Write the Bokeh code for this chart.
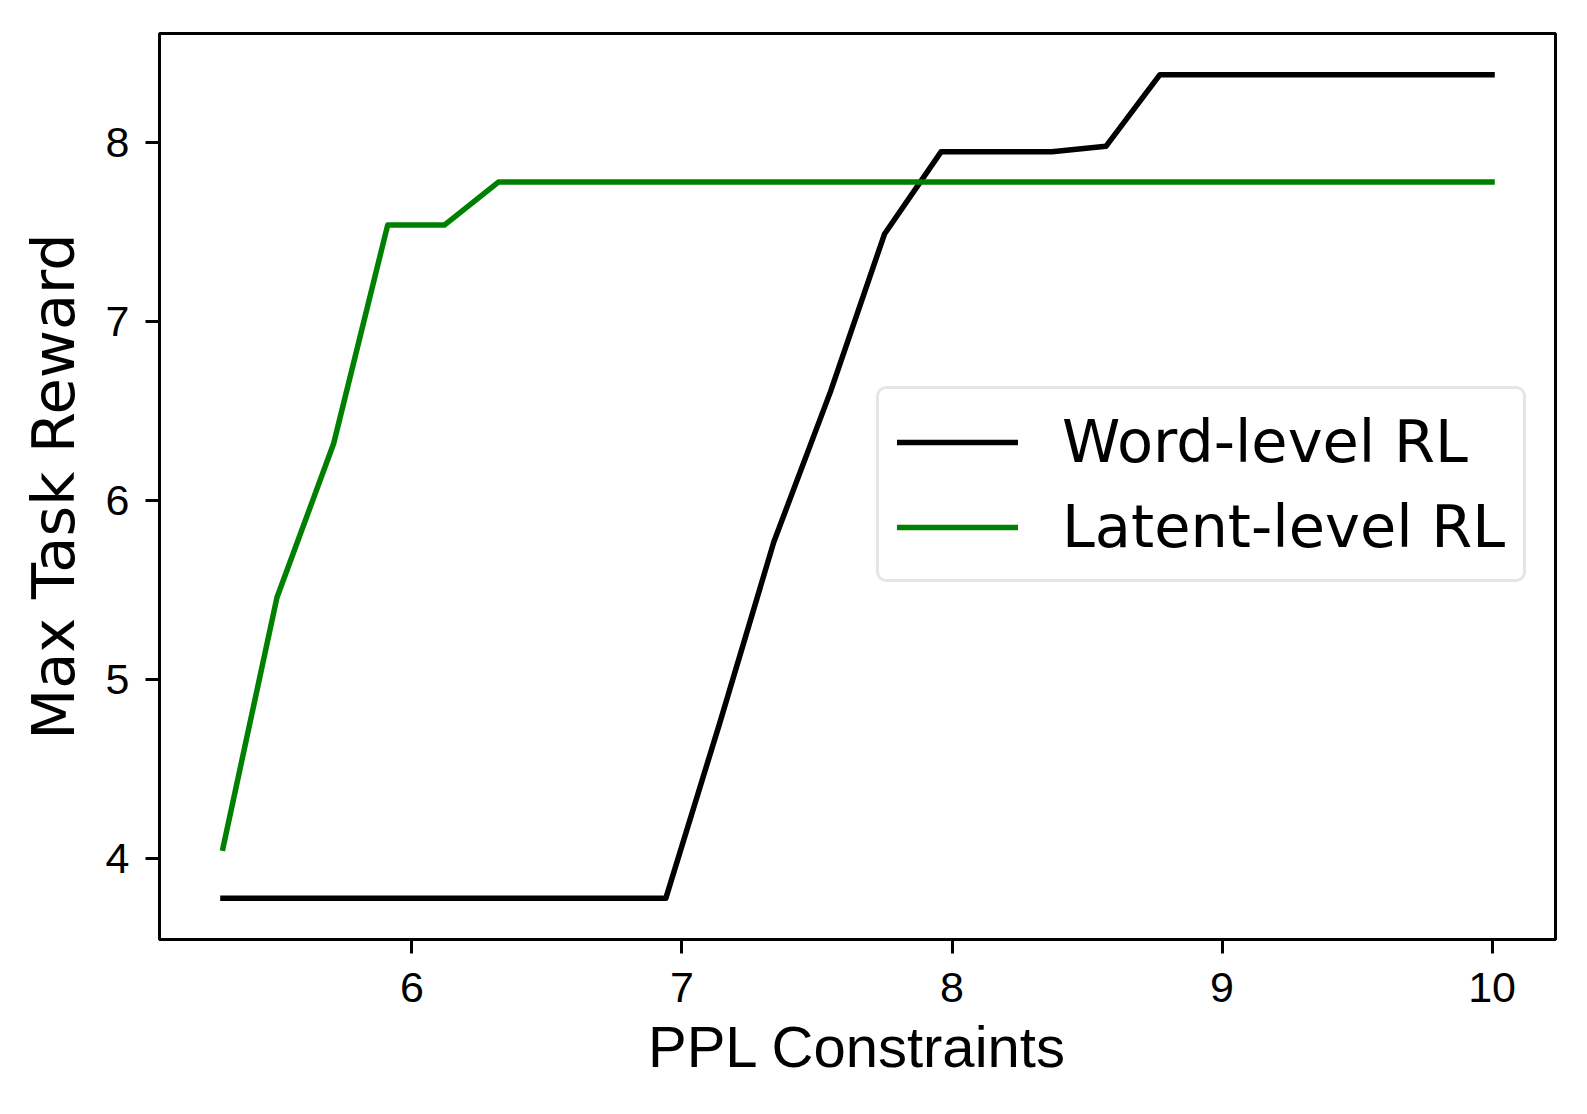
from bokeh.plotting import figure
from bokeh.models import Legend, LegendItem, Range1d, FixedTicker
from bokeh.embed import file_html
from bokeh.resources import INLINE

# ---- data ----
ppl = [5.30, 5.50, 5.71, 5.91, 6.12, 6.32, 6.53, 6.73, 6.94, 7.14, 7.34, 7.55,
       7.75, 7.96, 8.16, 8.37, 8.57, 8.77, 8.98, 9.18, 9.39, 9.59, 9.80, 10.00]
word_rl = [3.78, 3.78, 3.78, 3.78, 3.78, 3.78, 3.78, 3.78, 3.78, 4.76, 5.77, 6.61,
           7.49, 7.95, 7.95, 7.95, 7.98, 8.38, 8.38, 8.38, 8.38, 8.38, 8.38, 8.38]
latent_rl = [4.06, 5.46, 6.32, 7.54, 7.54, 7.78, 7.78, 7.78, 7.78, 7.78, 7.78, 7.78,
             7.78, 7.78, 7.78, 7.78, 7.78, 7.78, 7.78, 7.78, 7.78, 7.78, 7.78, 7.78]
x_ticks = [6, 7, 8, 9, 10]
y_ticks = [4, 5, 6, 7, 8]
x_label = "PPL Constraints"
y_label = "Max Task Reward"
series_names = ["Word-level RL", "Latent-level RL"]
series_colors = ["#000000", "#008000"]

p = figure(frame_width=1396, frame_height=906, output_backend="svg",
           toolbar_location=None,
           x_range=Range1d(5.065, 10.235), y_range=Range1d(3.55, 8.61),
           min_border_left=159, min_border_right=12, min_border_top=33,
           min_border_bottom=150, background_fill_color="white",
           border_fill_color="white")

p.xgrid.visible = False
p.ygrid.visible = False
p.outline_line_color = "black"
p.outline_line_width = 3
p.outline_line_alpha = 1.0

p.xaxis.ticker = FixedTicker(ticks=x_ticks)
p.yaxis.ticker = FixedTicker(ticks=y_ticks)
for ax in (p.xaxis[0], p.yaxis[0]):
    ax.axis_line_color = "black"
    ax.axis_line_width = 3
    ax.major_tick_line_color = "black"
    ax.major_tick_line_width = 3
    ax.major_tick_out = 14
    ax.major_tick_in = 0
    ax.minor_tick_line_color = None
    ax.major_label_text_color = "black"
    ax.major_label_text_font = "Liberation Sans"
    ax.major_label_text_font_size = "43px"
    ax.axis_label_text_color = "black"
    ax.axis_label_text_font_style = "normal"

p.xaxis.axis_label = x_label
p.xaxis.axis_label_text_font = "Liberation Sans"
p.xaxis.axis_label_text_font_size = "58px"
p.xaxis.major_label_standoff = 19
p.xaxis.axis_label_standoff = 9

p.yaxis.axis_label = y_label
p.yaxis.axis_label_text_font = "DejaVu Sans"
p.yaxis.axis_label_text_font_size = "59px"
p.yaxis.major_label_standoff = 16
p.yaxis.axis_label_standoff = 15

r_word = p.line(ppl, word_rl, line_color=series_colors[0], line_width=5.5,
                line_join="round", line_cap="square")
r_lat = p.line(ppl, latent_rl, line_color=series_colors[1], line_width=5.5,
               line_join="round", line_cap="square")

legend = Legend(items=[LegendItem(label=series_names[0], renderers=[r_word]),
                       LegendItem(label=series_names[1], renderers=[r_lat])],
                location=(717, 357), margin=0, padding=18, spacing=16,
                glyph_width=121, glyph_height=68, label_height=68,
                label_standoff=44, label_text_font="DejaVu Sans",
                label_text_font_size="59px", label_text_color="black",
                border_line_color="#cccccc", border_line_width=3,
                background_fill_color="white", background_fill_alpha=0.8)
try:
    legend.border_radius = 10
except Exception:
    pass
p.add_layout(legend, "center")

open("out.html", "w").write(file_html(p, INLINE))
